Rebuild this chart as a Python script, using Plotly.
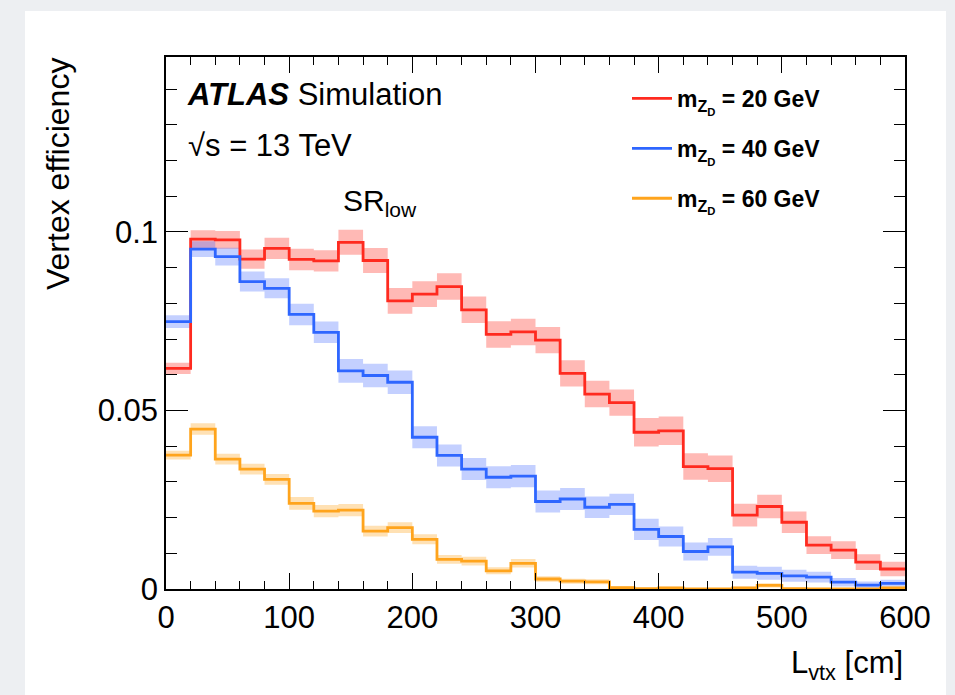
import plotly.graph_objects as go

# ---------------- data ----------------
bin_edges = list(range(0, 620, 20))  # L_vtx bin edges [cm]

eff_20 = [0.0618, 0.0980, 0.0978, 0.0924, 0.0954, 0.0923, 0.0919, 0.0971, 0.0920, 0.0807,
          0.0826, 0.0847, 0.0782, 0.0713, 0.0720, 0.0697, 0.0604, 0.0546, 0.0522, 0.0439,
          0.0443, 0.0343, 0.0337, 0.0207, 0.0231, 0.0187, 0.0123, 0.0109, 0.0075, 0.0056]
err_20 = [0.0016, 0.0025, 0.0025, 0.0027, 0.0030, 0.0030, 0.0030, 0.0035, 0.0035, 0.0036,
          0.0036, 0.0037, 0.0037, 0.0037, 0.0037, 0.0037, 0.0037, 0.0037, 0.0037, 0.0040,
          0.0040, 0.0037, 0.0037, 0.0032, 0.0033, 0.0030, 0.0025, 0.0025, 0.0022, 0.0020]

eff_40 = [0.0749, 0.0952, 0.0931, 0.0861, 0.0842, 0.0769, 0.0719, 0.0611, 0.0598, 0.0579,
          0.0425, 0.0374, 0.0336, 0.0313, 0.0316, 0.0245, 0.0252, 0.0229, 0.0237, 0.0167,
          0.0147, 0.0105, 0.0118, 0.0047, 0.0044, 0.0037, 0.0033, 0.0019, 0.0011, 0.0016]
err_40 = [0.0018, 0.0022, 0.0025, 0.0028, 0.0028, 0.0030, 0.0030, 0.0033, 0.0033, 0.0033,
          0.0031, 0.0031, 0.0031, 0.0031, 0.0031, 0.0031, 0.0031, 0.0030, 0.0030, 0.0030,
          0.0028, 0.0025, 0.0025, 0.0018, 0.0018, 0.0017, 0.0015, 0.0012, 0.0010, 0.0010]

eff_60 = [0.0375, 0.0448, 0.0364, 0.0336, 0.0307, 0.0240, 0.0218, 0.0221, 0.0162, 0.0172,
          0.0139, 0.0083, 0.0078, 0.0051, 0.0072, 0.0028, 0.0022, 0.0020, 0.0004, 0.0001,
          0.0003, 0.0000, 0.0000, 0.0003, 0.0010, 0.0001, 0.0000, 0.0000, 0.0000, 0.0003]
err_60 = [0.0012, 0.0016, 0.0015, 0.0015, 0.0015, 0.0018, 0.0017, 0.0017, 0.0015, 0.0015,
          0.0014, 0.0012, 0.0012, 0.0010, 0.0012, 0.0008, 0.0007, 0.0007, 0.0004, 0.0002,
          0.0003, 0.0001, 0.0001, 0.0003, 0.0006, 0.0002, 0.0001, 0.0001, 0.0001, 0.0003]

series_names = ["<b>m<sub>Z<sub>D</sub></sub> = 20 GeV</b>",
                "<b>m<sub>Z<sub>D</sub></sub> = 40 GeV</b>",
                "<b>m<sub>Z<sub>D</sub></sub> = 60 GeV</b>"]
line_colors = ["#ff2a1f", "#2e66ff", "#ffa41c"]
band_colors = ["rgba(255,70,60,0.38)", "rgba(70,110,255,0.32)", "rgba(255,170,40,0.35)"]

x_ticks = [0, 100, 200, 300, 400, 500, 600]
y_ticks = [0, 0.05, 0.1]
y_ticklabels = ["0", "0.05", "0.1"]

FONT = "Liberation Sans, Arial, Helvetica, sans-serif"
GRAY = "#edeff2"

# ---------------- figure ----------------
fig = go.Figure()


def closed(vals):
    return list(vals) + [vals[-1]]


all_series = [(eff_20, err_20), (eff_40, err_40), (eff_60, err_60)]

# uncertainty bands (main x/y axes: bottom & left)
for i, (vals, errs) in enumerate(all_series):
    up = [v + e for v, e in zip(vals, errs)]
    lo = [max(v - e, 0) for v, e in zip(vals, errs)]
    fig.add_trace(go.Scatter(x=bin_edges, y=closed(up), mode="lines", line_shape="hv",
                             line=dict(width=0, color=band_colors[i]), showlegend=False,
                             hoverinfo="skip"))
    fig.add_trace(go.Scatter(x=bin_edges, y=closed(lo), mode="lines", line_shape="hv",
                             line=dict(width=0, color=band_colors[i]), fill="tonexty",
                             fillcolor=band_colors[i], showlegend=False, hoverinfo="skip"))

# step lines (overlay axes x2/y2: top & right, same ranges -> drawn above the bands)
for i, (vals, errs) in enumerate(all_series):
    fig.add_trace(go.Scatter(x=bin_edges, y=closed(vals), mode="lines", line_shape="hv",
                             line=dict(width=2.8, color=line_colors[i]), name=series_names[i],
                             legendgroup=f"g{i}", xaxis="x2", yaxis="y2"))

L, R, T, B = 166, 50, 57, 106
W, H = 955, 695
PW, PH = W - L - R, H - T - B


def px(x):
    return (x - L) / PW


def py(y):
    return (H - B - y) / PH


X_RANGE = [0, 600]
Y_RANGE = [0, 0.149]

axis_common = dict(
    showline=True, linecolor="black", linewidth=1.6, mirror=True,
    ticks="inside", tickcolor="black", tickwidth=1.4,
    showgrid=False, zeroline=False,
    tickfont=dict(family=FONT, size=31, color="black"),
)

fig.update_layout(
    xaxis=dict(range=X_RANGE, tickvals=x_ticks, ticklen=16,
               minor=dict(dtick=20, ticklen=8, ticks="inside", tickcolor="black"),
               **axis_common),
    yaxis=dict(range=Y_RANGE, tickvals=y_ticks, ticktext=y_ticklabels, ticklen=22,
               minor=dict(dtick=0.01, ticklen=11, ticks="inside", tickcolor="black"),
               **axis_common),
    xaxis2=dict(range=X_RANGE, overlaying="x", anchor="y2", side="top", ticks="inside",
                ticklen=16, tickcolor="black", tickwidth=1.4, showticklabels=False,
                dtick=100, tick0=0, tickmode="linear", showgrid=False,
                minor=dict(dtick=20, ticklen=8, ticks="inside", tickcolor="black")),
    yaxis2=dict(range=Y_RANGE, overlaying="y", anchor="x2", side="right", ticks="inside",
                ticklen=22, tickcolor="black", tickwidth=1.4, showticklabels=False,
                dtick=0.05, tick0=0, tickmode="linear", showgrid=False,
                minor=dict(dtick=0.01, ticklen=11, ticks="inside", tickcolor="black")),
)

# gray frame around the white page (left, top and right strips)
for x0, x1, y0, y1 in [(0, 25, 0, 695), (0, 955, 0, 11), (946, 955, 0, 695)]:
    fig.add_shape(type="rect", xref="paper", yref="paper", x0=px(x0), x1=px(x1),
                  y0=py(y1), y1=py(y0), fillcolor=GRAY, line=dict(width=0), layer="above")

annots = [
    dict(text="<b><i>ATLAS</i></b> Simulation", x=px(185), y=py(95), xanchor="left",
         yanchor="middle", font=dict(size=31)),
    dict(text="√s = 13 TeV", x=px(186), y=py(146), xanchor="left", yanchor="middle",
         font=dict(size=31)),
    dict(text="SR<sub>low</sub>", x=px(341), y=py(202), xanchor="left", yanchor="middle",
         font=dict(size=30)),
    dict(text="Vertex efficiency", x=px(58), y=py(174), xanchor="center", yanchor="middle",
         textangle=-90, font=dict(size=32)),
    dict(text="L<sub>vtx</sub> [cm]", x=1.0, y=py(665), xanchor="right", yanchor="middle",
         font=dict(size=31)),
]
for a in annots:
    a.update(xref="paper", yref="paper", showarrow=False)
    a["font"].update(family=FONT, color="black")
    fig.add_annotation(**a)

fig.update_layout(
    width=W, height=H,
    margin=dict(l=L, r=R, t=T, b=B, autoexpand=False),
    paper_bgcolor="white",
    plot_bgcolor="white",
    font=dict(family=FONT, color="black"),
    legend=dict(x=px(627), y=py(77), xanchor="left", yanchor="top",
                bgcolor="rgba(0,0,0,0)", font=dict(family=FONT, size=23, color="black"),
                tracegroupgap=17, itemwidth=40),
    showlegend=True,
)

fig.write_html("out.html")
